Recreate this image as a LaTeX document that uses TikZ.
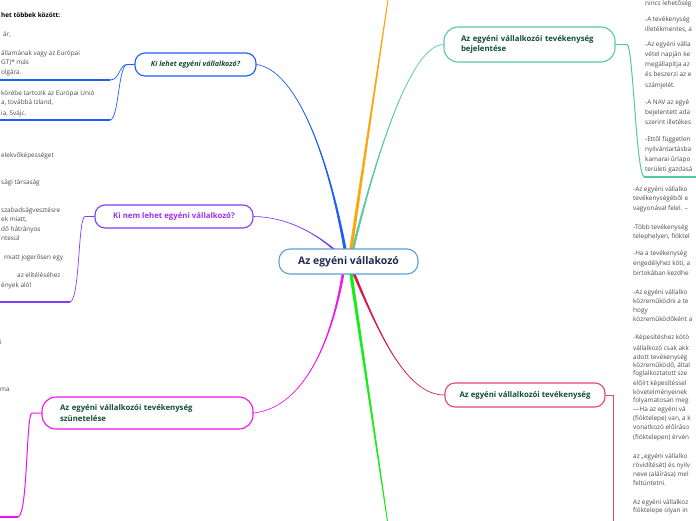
\documentclass[tikz,border=0pt]{standalone}
\usepackage{fontspec}
\setmainfont{Open Sans}
\usetikzlibrary{calc}
\definecolor{cblue}{HTML}{1F5CFF}
\definecolor{cpurple}{HTML}{7E3CFF}
\definecolor{cpurtxt}{HTML}{A02EF0}
\definecolor{cmag}{HTML}{F012F0}
\definecolor{cteal}{HTML}{55C9A2}
\definecolor{cpink}{HTML}{E6457A}
\definecolor{cred}{HTML}{D8184A}
\definecolor{corange}{HTML}{FFA50A}
\definecolor{cgreen}{HTML}{12EE12}
\definecolor{ccentre}{HTML}{5AA0D8}
\definecolor{navy}{HTML}{1B2A4E}
\definecolor{tgreen}{HTML}{124D3A}
\definecolor{txtgray}{HTML}{4A4A4A}
\newcommand\mmtaper[6]{\filldraw[#1,line width=0.6pt] ($(#2)+(-#6,0)$) .. controls (#3) and (#4) .. (#5) .. controls (#4) and (#3) .. ($(#2)+(#6,0)$) -- cycle;}
\begin{document}
\begin{tikzpicture}[x=1pt,y=-1pt,
  topic/.style={draw, fill=white, rounded corners=10pt, line width=1.1pt, font=\fontsize{7.8}{10.5}\selectfont\bfseries, text=tgreen, inner sep=0pt},
  txt/.style={font=\fontsize{6.4}{8}\selectfont, text=txtgray, anchor=base west, inner sep=0pt},
  sub/.style={line width=0.7pt},
  under/.style={line width=1.4pt}]
\useasboundingbox (0,0) rectangle (696,520);
\fill[white] (0,0) rectangle (696,520);
\clip (0,0) rectangle (696,520);

% start points on the central node
\coordinate (sB) at (345,249);
\coordinate (sP) at (333.5,249);
\coordinate (sO) at (351,249);
\coordinate (sT) at (353,249);
\coordinate (sM) at (343,274);
\coordinate (sG) at (351,274);
\coordinate (sR) at (354,274);
\coordinate (eO) at (391.7,-25);
\coordinate (eG) at (391,545);

% topic nodes
\node[topic, draw=cblue, minimum width=121pt, minimum height=23pt, font=\fontsize{7.2}{9}\selectfont\bfseries\itshape] (b1) at (195.5,64.5) {Ki lehet egyéni vállalkozó?};
\node[topic, draw=cpurple, text=cpurtxt, minimum width=158pt, minimum height=23pt] (p1) at (174,216.5) {Ki nem lehet egyéni vállalkozó?};
\node[topic, draw=cmag, rounded corners=14pt, minimum height=32pt, text width=175pt, inner xsep=18pt, align=left] (m1) at (147.5,413) {Az egyéni vállalkozói tevékenység\\szünetelése};
\node[topic, draw=cteal, rounded corners=14pt, minimum height=35pt, text width=137pt, inner xsep=17pt, align=left] (t1) at (529.5,44.5) {Az egyéni vállalkozói tevékenység\\bejelentése};
\node[topic, draw=cpink, minimum width=160pt, minimum height=24pt] (r1) at (525,395) {Az egyéni vállalkozói tevékenység};

% main connectors (tapered)
\mmtaper{cblue}{sB}{327,150}{295,70}{b1.east}{1.2}
\mmtaper{cpurple}{sP}{318,236}{290,217}{p1.east}{1.0}
\mmtaper{cteal}{sT}{375,160}{410,45}{t1.west}{1.0}
\mmtaper{cmag}{sM}{330,350}{300,408}{m1.east}{1.0}
\mmtaper{cred}{sR}{378,330}{405,395}{r1.west}{1.2}
\filldraw[corange,line width=0.6pt] ($(sO)+(-1.3,0)$) -- (eO) -- ($(sO)+(1.3,0)$) -- cycle;
\filldraw[cgreen,line width=0.6pt] ($(sG)+(-1.3,0)$) -- (eG) -- ($(sG)+(1.3,0)$) -- cycle;

% central node on top of the connectors
\node[topic, draw=ccentre, rounded corners=11pt, minimum width=139pt, minimum height=25pt, text=navy, font=\fontsize{10.4}{12}\selectfont\bfseries] (c) at (348.5,261.5) {Az egyéni vállakozó};

% sub connectors
\coordinate (bj) at (127,64.5);
\coordinate (bu1) at (110,80);
\coordinate (bu1e) at (-5,80);
\coordinate (bu2) at (110,120);
\coordinate (bu2e) at (-5,120);
\draw[cblue,sub] (b1.west) -- (bj) .. controls (119,64.5) and (120,80) .. (bu1);
\draw[cblue,sub] (bj) .. controls (118,66) and (119,119) .. (bu2);
\draw[cblue,under] (bu1) -- (bu1e);
\draw[cblue,under] (bu2) -- (bu2e);

\coordinate (pj) at (85,216.5);
\coordinate (pu) at (70,302);
\coordinate (pue) at (-5,302);
\draw[cpurple,sub] (p1.west) -- (pj) .. controls (78,216.5) and (80,300) .. (pu);
\draw[cpurple,under] (pu) -- (pue);

\coordinate (mj) at (32,413);
\coordinate (mu) at (18,517);
\coordinate (mue) at (-5,517);
\draw[cmag,sub,line width=1pt] (m1.west) -- (mj) .. controls (26,413) and (28,515) .. (mu);
\draw[cmag,under] (mu) -- (mue);

\coordinate (tj) at (627,44.5);
\coordinate (tu) at (644,177);
\coordinate (tue) at (705,177);
\draw[cteal,sub,line width=1pt] (t1.east) -- (tj) .. controls (633,44.5) and (636,172) .. (tu);
\draw[cteal,under] (tu) -- (tue);

\coordinate (rj) at (613,395);
\coordinate (rue) at (613,530);
\draw[cpink,sub,line width=1pt] (r1.east) -- (rj) -- (rue);

% left texts
\node[txt, text=black, font=\fontsize{6.4}{8}\selectfont\bfseries] (L0) at (1,17) {het többek között:};
\foreach \px/\py/\tx [count=\i] in {
  3/34/{ár,}, 1/53/{államának vagy az Európai}, 1/62/{GT)* más}, 1/72/{olgára.},
  1/93/{körébe tartozik az Európai Unió}, 1/102/{a, továbbá Izland,}, 1/113/{ia, Svájc.},
  1/155/{elekvőképességet}, 1/182/{sági társaság},
  1/210/{szabadságvesztésre}, 1/219/{ek miatt,}, 1/229/{dő hátrányos}, 1/238/{ntesül},
  4/257/{miatt jogerősen egy}, 17/275/{az elítéléséhez}, 1/285/{ények alól},
  0/342/{i}, 0/389/{ma}}
  \node[txt, name=L\i] at (\px,\py+2) {\tx};

% right texts (teal)
\foreach \py/\tx [count=\i] in {
  3/{nincs lehetőség}, 19/{-A tevékenység}, 29/{illetékmentes, a},
  44/{-Az egyéni válla}, 54/{vétel napján ke}, 64/{megállapítja az}, 74/{és beszerzi az e}, 85/{számjelét.},
  102/{-A NAV az egyé}, 112/{bejelentett ada}, 122/{szerint illetékes},
  139/{-Ettől független}, 149/{nyilvántartásba}, 159/{kamarai űrlapo}, 169/{területi gazdasá}}
  \node[txt, name=T\i] at (645,\py+2) {\tx};

% right texts (pink)
\foreach \py/\tx [count=\i] in {
  189/{-Az egyéni vállalko}, 198/{tevékenységéből e}, 208/{vagyonával felel. –},
  227/{-Több tevékenység}, 236/{telephelyen, fióktel},
  253/{-Ha a tevékenység}, 263/{engedélyhez köti, a}, 273/{birtokában kezdhe},
  292/{-Az egyéni vállalko}, 301/{közreműködni a te}, 310/{hogy}, 319/{közreműködőként a},
  337/{-Képesítéshez kötö}, 348/{vállalkozó csak akk}, 357/{adott tevékenység}, 365/{közreműködő, által},
  373/{foglalkoztatott sze}, 383/{előírt képesítéssel}, 392/{követelményeinek}, 400/{folyamatosan meg},
  409/{––Ha az egyéni vá}, 418/{(fióktelepe) van, a k}, 427/{vonatkozó előíráso}, 437/{(fióktelepen) érvén},
  456/{az „egyéni vállalko}, 465/{rövidítését) és nyilv}, 474/{neve (aláírása) mel}, 483/{feltüntetni.},
  502/{Az egyéni vállalkoz}, 510/{fióktelepe olyan in}}
  \node[txt, name=R\i] at (633,\py+2) {\tx};
\end{tikzpicture}
\end{document}
